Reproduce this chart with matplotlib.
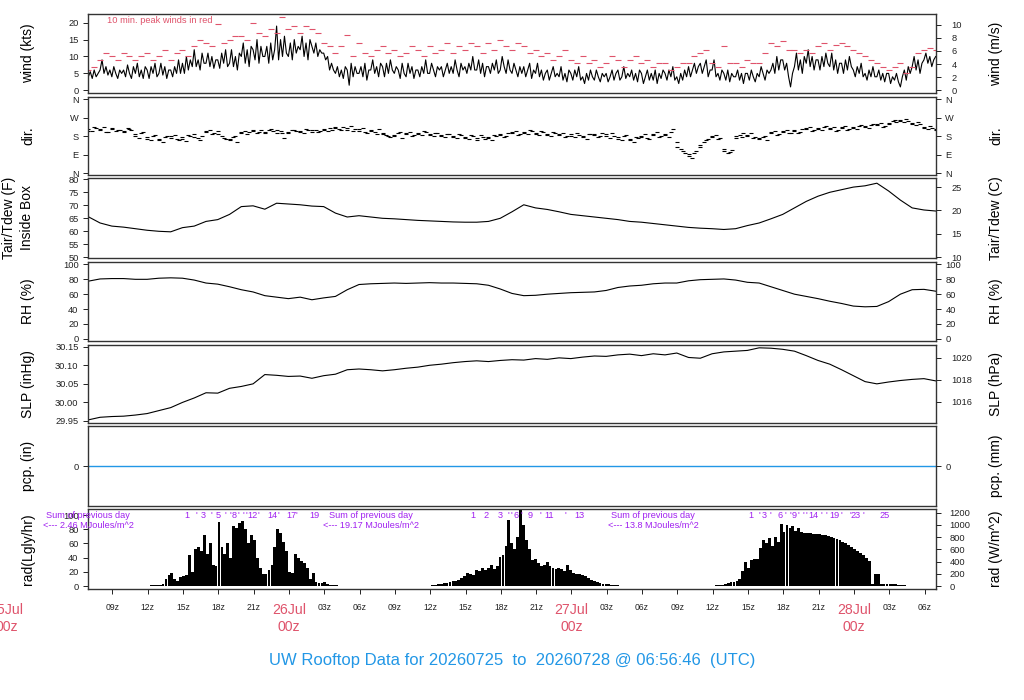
import numpy as np
import matplotlib
matplotlib.use("Agg")
import matplotlib.pyplot as plt
from matplotlib.transforms import blended_transform_factory

plt.rcParams['font.family'] = ['Liberation Sans', 'DejaVu Sans']

# ---------------- data (hours since 2026-07-25 00z) ----------------
T0 = 6 + 56 / 60 + 46 / 3600
T1 = T0 + 72

# mean wind (kts), 10-minute samples
wind_kts = [4, 5.5, 3.5, 6, 4, 5, 6, 9, 5, 7, 4.5, 6, 4, 7, 5, 3.5, 6, 5,
            6, 4, 7.5, 5, 3.5, 7, 5, 8, 4, 6, 3.5, 7, 6, 3.5, 7, 5, 8, 4,
            5, 8, 4.5, 7, 3.5, 6, 6, 4, 7, 5, 9, 5, 8, 5, 10, 6, 9, 7,
            12, 7, 9, 6, 11, 8, 8, 11, 7, 10, 6.5, 9, 9, 6.5, 11, 8, 12, 7,
            8, 12, 7, 10, 6, 11, 10, 14, 8, 12, 7, 13, 12, 9, 15, 8, 13, 10,
            10, 13, 8, 14, 9, 12, 19, 9, 15, 10, 16, 11, 10, 14, 9, 15, 11, 13,
            12, 16, 10, 14, 9, 15, 13, 11, 14, 10, 12, 11, 11, 9, 10, 6, 8, 6,
            5, 7, 4, 6, 3.5, 7, 6, 1.5, 8, 4, 7, 5, 5, 7, 4, 8, 3, 6,
            6, 9, 5, 7, 4, 8, 7, 4, 8, 5, 9, 6, 5, 7, 6, 3.5, 8, 5,
            4, 8, 5, 7, 3.5, 6, 6, 4, 7, 5, 9, 5, 5, 8, 6, 4, 7, 6,
            7, 4, 6, 8, 5, 7, 5, 9, 6, 4, 8, 6, 7, 5, 8, 6, 10, 6,
            6, 9, 5, 8, 4, 7, 7, 5, 8, 6, 9, 5, 6, 10, 7, 5, 9, 6,
            5, 8, 6, 4, 7, 5, 7, 4, 6, 8, 3.5, 6, 5, 8, 4, 6, 3, 5,
            6, 3, 5, 7, 4, 5, 4, 7, 3, 5, 2.5, 6, 5, 3, 6, 4, 7, 3,
            4, 2, 5, 3, 6, 4, 3, 6, 4, 2.5, 5, 4, 5, 2.5, 4, 6, 3, 5,
            6, 3, 4, 7, 3.5, 5, 4, 6, 3, 5, 2.5, 6, 5, 2, 4, 6, 3, 5,
            3, 6, 2, 5, 3.5, 6, 5, 3, 6, 4, 7, 3, 4, 2, 5, 3, 6, 4,
            7, 4, 6, 8, 5, 7, 8, 5, 7, 9, 4, 6, 6, 9, 4, 5, 3, 6,
            5, 3, 6, 2.5, 5, 4, 4, 6, 3, 5, 2, 5, 5, 3, 6, 4, 2.5, 5,
            4, 7, 5, 3, 6, 5, 6, 8, 5, 10, 6, 9, 9, 6, 8, 4, 1, 5,
            7, 11, 6, 9, 5, 10, 8, 12, 7, 10, 6, 9, 9, 6, 10, 7, 11, 8,
            7, 11, 6, 9, 5, 8, 8, 5, 9, 6, 10, 7, 6, 4, 7, 5, 8, 4,
            5, 3, 6, 4, 7, 4, 4, 6, 3, 5, 2.5, 5, 5, 2, 4, 3, 5, 2.5,
            1, 4, 6, 3, 7, 5, 7, 10, 6, 9, 5, 8, 9, 11, 8, 10, 7, 9,
            10]

# 10-minute peak winds (kts), 30-minute samples
peak_kts = [6, 7, 9, 11, 10, 9, 11, 10, 9, 10, 11, 9, 10, 12, 9, 11, 12, 10, 13, 15,
            14, 13, 19.5, 14, 15, 16, 16, 15, 20, 17, 16, 18, 17, 21.7, 18, 19, 17, 19, 18, 17,
            14, 13, 11, 13, 16.5, 10, 14, 11, 10, 12, 13, 11, 12, 10, 11, 13, 12, 10, 13, 11,
            12, 14, 11, 13, 12, 14, 13, 11, 14, 12, 15, 13, 12, 14, 13, 11, 12, 10, 11, 9,
            10, 12, 9, 8, 10, 8, 9, 7, 8, 10, 9, 7, 9, 10, 8, 9, 7, 8, 8, 6,
            7, 8, 8, 10, 11, 12, 8, 7, 13, 8, 8, 7, 9, 8, 8, 11, 14, 13, 14.5, 12,
            12, 11, 12, 11, 13, 14, 12, 13.5, 14, 13, 12, 11, 10, 9, 8, 7, 6, 7, 8, 5,
            7, 11, 12, 12.5, 12]

# wind direction (deg), two interleaved sample sets
dir_deg = [215, 205, 220, 210, 225, 200, 215, 205, 212, 200, 218, 210,
           190, 170, 200, 175, 160, 185, 165, 150, 180, 170, 185, 160, 175, 155, 180,
           190, 170, 180, 200, 210, 195, 205, 180, 165, 160, 175, 150, 195, 205, 200,
           205, 195, 210, 200, 210, 205, 195, 205, 170, 200, 210, 205, 205, 195, 210,
           200, 210, 205, 215, 205, 210, 220, 215, 225, 210, 230, 215, 205, 220, 195,
           210, 200, 215, 195, 185, 175, 180, 195, 170, 190, 200, 185, 195, 185, 200,
           190, 180, 195, 185, 175, 190, 180, 170, 185, 175, 165, 180, 170, 185, 165,
           175, 160, 180, 185, 175, 195, 195, 205, 190, 200, 190, 205, 195, 185, 200,
           190, 180, 195, 185, 195, 180, 190, 175, 185, 180, 165, 190, 185, 175, 195,
           190, 170, 180, 175, 160, 185, 165, 150, 170, 175, 190, 165, 185, 200, 180,
           190, 175, 215, 150, 120, 100, 95, 75, 110, 130, 150, 165, 175, 185, 170,
           120, 100, 115, 170, 185, 195, 180, 195, 175, 165, 175, 160, 195, 205, 190,
           200, 210, 195, 205, 195, 215, 215, 225, 210, 220, 210, 230, 215, 225, 210,
           220, 230, 215, 225, 215, 235, 230, 220, 240, 235, 245, 230, 240, 255, 250,
           260, 250, 255, 245, 235, 240, 225, 215, 220, 210]
dir_deg_b = [205, 225, 215, 200, 220, 210, 205, 215, 180, 195, 165, 180, 160, 175,
             180, 165, 165, 185, 175, 160, 205, 190, 190, 170, 165, 180, 200, 190,
             210, 200, 195, 215, 210, 195, 195, 210, 200, 215, 210, 200, 210, 220,
             225, 210, 220, 205, 215, 200, 205, 190, 190, 180, 185, 200, 195, 180,
             190, 205, 185, 195, 180, 190, 175, 190, 170, 185, 160, 175, 170, 185,
             190, 180, 200, 185, 195, 210, 190, 205, 185, 200, 190, 175, 180, 195,
             175, 190, 190, 180, 180, 195, 165, 180, 160, 175, 180, 170, 190, 175,
             185, 200, 130, 110, 85, 100, 140, 160, 180, 165, 110, 105, 180, 175,
             185, 170, 170, 180, 200, 185, 205, 195, 210, 200, 220, 205, 215, 225,
             220, 205, 225, 210, 220, 230, 225, 235, 240, 225, 245, 260, 255, 265,
             240, 250, 220, 230, 215]

temp_f = [65.6, 63.2, 62.0, 61.6, 61.0, 60.4, 60.0, 59.8, 61.4, 62.0, 63.8, 64.5, 66.5,
          69.5, 69.8, 68.5, 70.8, 70.5, 70.2, 69.7, 69.5, 67.0, 65.5, 66.0, 65.5, 65.0,
          64.8, 64.5, 64.2, 64.0, 63.8, 63.6, 63.5, 63.5, 63.8, 65.0, 67.5, 70.2, 69.0,
          68.4, 67.5, 66.5, 66.0, 65.5, 65.0, 64.5, 63.8, 63.5, 63.0, 62.5, 62.0, 61.5,
          61.2, 61.0, 60.7, 61.0, 62.2, 63.2, 64.8, 66.5, 69.0, 71.5, 73.5, 75.0, 76.0,
          77.0, 77.5, 78.5, 75.5, 72.0, 69.0, 68.2, 67.8]

rh_pct = [77.5, 80.5, 81, 81, 80, 80, 81.5, 82, 81.5, 79, 75, 73.5, 70, 66, 63, 58, 56,
          54, 56, 52.5, 55, 57, 66, 73, 74, 74.5, 75, 74.5, 75, 75.5, 75, 75, 74.5, 74,
          72, 67, 61, 58, 58.5, 60, 61, 62, 62.5, 63, 65, 69, 71, 72, 74, 75, 75, 78,
          79.5, 80, 80.5, 79, 76, 75, 70, 65, 60, 57, 54, 50.5, 47.5, 44, 43, 43.5, 50,
          60, 66, 66.5, 64]

slp_inhg = [29.953, 29.960, 29.962, 29.963, 29.966, 29.970, 29.978, 29.986, 30.000,
            30.012, 30.026, 30.025, 30.038, 30.043, 30.050, 30.075, 30.073, 30.070,
            30.071, 30.065, 30.072, 30.076, 30.088, 30.090, 30.088, 30.085, 30.088,
            30.092, 30.095, 30.100, 30.103, 30.107, 30.110, 30.112, 30.110, 30.113,
            30.115, 30.114, 30.118, 30.116, 30.120, 30.118, 30.122, 30.125, 30.124,
            30.128, 30.130, 30.126, 30.131, 30.128, 30.133, 30.121, 30.119, 30.131,
            30.136, 30.138, 30.140, 30.147, 30.146, 30.143, 30.138, 30.126, 30.113,
            30.103, 30.088, 30.072, 30.056, 30.050, 30.055, 30.059, 30.062, 30.064, 30.058]

pcp_in = [0.0, 0.0]

# solar radiation (W/m^2), 15-minute samples per day, with day start hours
rad_day_start = [12.05, 36.18, 60.31]
rad_day1 = [6, 12, 12, 17, 23, 35, 115, 185, 220, 115, 80, 140, 165, 185, 510, 230, 605,
            640, 580, 835, 525, 700, 350, 325, 1045, 640, 525, 700, 465, 990, 955, 1025,
            1070, 930, 700, 835, 755, 465, 290, 200, 200, 255, 350, 640, 930, 870, 720,
            580, 230, 210, 525, 465, 405, 385, 290, 115, 210, 60, 45, 45, 70, 35, 23, 17,
            12, 6]
rad_day2 = [15, 20, 30, 35, 45, 55, 60, 75, 80, 100, 130, 160, 220, 200, 180, 270, 250,
            290, 260, 300, 350, 280, 320, 470, 500, 650, 1080, 700, 600, 800, 1240, 1000,
            750, 600, 420, 450, 380, 320, 350, 400, 330, 300, 280, 300, 280, 250, 350, 270,
            220, 200, 200, 180, 170, 130, 100, 80, 60, 50, 40, 30, 25, 20, 15, 10, 5]
rad_day3 = [10, 15, 20, 40, 55, 60, 70, 80, 120, 250, 400, 300, 420, 440, 450, 620, 750,
            700, 780, 650, 800, 720, 1020, 880, 1000, 950, 980, 900, 950, 880, 870, 860,
            860, 850, 850, 845, 840, 830, 820, 805, 790, 770, 750, 725, 700, 670, 640, 610,
            575, 540, 500, 460, 410, 30, 200, 190, 40, 35, 35, 30, 30, 25, 20, 15, 10]
rad_days = [rad_day1, rad_day2, rad_day3]

# cumulative MJ/m^2 marks drawn along the top of the radiation panel
cum_times = [
    [15.31, 16.16, 16.72, 17.37, 17.99, 18.56, 18.99, 19.35, 19.69, 20.12, 20.41, 20.88,
     21.39, 22.62, 23.09, 24.17, 24.66, 26.12],
    [39.66, 40.74, 41.93, 42.63, 42.92, 43.29, 43.71, 44.48, 45.33, 46.12, 47.45, 48.64],
    [63.25, 63.96, 64.36, 64.87, 65.72, 66.14, 66.57, 66.91, 67.27, 67.70, 67.99, 68.55,
     69.26, 69.69, 70.33, 70.96, 71.67, 72.15, 72.80, 74.64]]
cum_labels = [
    ["1", "'", "3", "'", "5", "'", "'", "8", "'", "'", "'", "12", "'", "14", "'", "17", "'", "19"],
    ["1", "2", "3", "'", "'", "6", "'", "9", "'", "11", "'", "13"],
    ["1", "'", "3", "'", "6", "'", "'", "9", "'", "'", "'", "14", "'", "'", "19", "'", "'",
     "23", "'", "25"]]
day_sums = ["2.46", "19.17", "13.8"]

date_labels = ["25Jul", "26Jul", "27Jul", "28Jul"]
date_hours = [0, 24, 48, 72]
hour_ticks = list(range(9, 79, 3))

title = "UW Rooftop Data for 20260725  to  20260728 @ 06:56:46  (UTC)"

# ---------------- styling ----------------
RED = '#DF536B'
BLUE = '#2297E6'
PURPLE = '#A020F0'
W, H = 1024, 700
fig = plt.figure(figsize=(W / 100, H / 100), dpi=100)

def panel(top, bottom):
    ax = fig.add_axes([88.3 / W, 1 - bottom / H, 847.4 / W, (bottom - top) / H])
    ax.set_xlim(T0, T1)
    for s in ax.spines.values():
        s.set_color('#333333')
        s.set_linewidth(1.0)
    return ax

def yaxes(ax, ylim, lt, ll, rt, rl, rpad=3.6):
    ax.set_ylim(*ylim)
    ax.set_yticks(lt)
    ax.set_yticklabels(ll)
    ax.tick_params(axis='y', direction='out', length=3.6, width=0.7, labelsize=6.7,
                   pad=3.4, colors='#222222')
    ax.set_xticks([])
    ax2 = ax.twinx()
    ax2.set_ylim(*ylim)
    ax2.set_yticks(rt)
    ax2.set_yticklabels(rl)
    ax2.tick_params(axis='y', direction='out', length=3.6, width=0.7, labelsize=6.7,
                    pad=rpad, colors='#222222')
    for s in ax2.spines.values():
        s.set_visible(False)
    return ax2

def ylab(top, bottom, left_text, right_text, lx=28):
    yc = 1 - (top + bottom) / 2 / H
    fig.text(lx / W, yc, left_text, rotation=90, ha='center', va='center', fontsize=10)
    fig.text(996 / W, yc, right_text, rotation=90, ha='center', va='center', fontsize=10)

KT2MS = 0.514444

# wind
ax = panel(14, 93)
tw = np.linspace(T0, T1, len(wind_kts))
ax.plot(tw, wind_kts, color='black', lw=0.8)
tp = np.linspace(T0, T1, len(peak_kts))
ax.plot(tp, peak_kts, ls='none', marker='_', ms=4, mew=0.8, color=RED)
ms_ticks = [0, 2, 4, 6, 8, 10]
yaxes(ax, (-0.8, 22.57), [0, 5, 10, 15, 20], ['0', '5', '10', '15', '20'],
      [v / KT2MS for v in ms_ticks], [str(v) for v in ms_ticks], rpad=7.9)
ax.text(0.0224, 0.924, "10 min. peak winds in red", transform=ax.transAxes, color=RED,
        fontsize=6.7, ha='left', va='center')
ylab(14, 93, "wind (kts)", "wind (m/s)")

# direction
ax = panel(97, 175)
td = np.linspace(T0, T1, len(dir_deg))
ax.plot(td, dir_deg, ls='none', marker='_', ms=3.5, mew=0.8, color='black')
td2 = np.linspace(T0, T1, len(dir_deg_b))
ax.plot(td2, dir_deg_b, ls='none', marker='_', ms=3.5, mew=0.8, color='black')
dt = [0, 90, 180, 270, 360]
dl = ['N', 'E', 'S', 'W', 'N']
yaxes(ax, (-8.3, 371), dt, dl, dt, dl, rpad=3.4)
ylab(97, 175, "dir.", "dir.")

# temperature
ax = panel(178, 258)
tt = np.linspace(T0, T1, len(temp_f))
ax.plot(tt, temp_f, color='black', lw=0.8)
ct = [10, 15, 20, 25]
yaxes(ax, (49.73, 80.5), [50, 55, 60, 65, 70, 75, 80],
      ['50', '55', '60', '65', '70', '75', '80'],
      [c * 9 / 5 + 32 for c in ct], [str(c) for c in ct], rpad=7.9)
yc = 1 - 218 / H
fig.text(9.5 / W, yc, "Tair/Tdew (F)", rotation=90, ha='center', va='center', fontsize=10)
fig.text(27 / W, yc, "Inside Box", rotation=90, ha='center', va='center', fontsize=10)
fig.text(996 / W, yc, "Tair/Tdew (C)", rotation=90, ha='center', va='center', fontsize=10)

# RH
ax = panel(262, 341)
tr = np.linspace(T0, T1, len(rh_pct))
ax.plot(tr, rh_pct, color='black', lw=0.8)
rt = [0, 20, 40, 60, 80, 100]
yaxes(ax, (-3.0, 103.3), rt, [str(v) for v in rt], rt, [str(v) for v in rt], rpad=3.4)
ylab(262, 341, "RH (%)", "RH (%)")

# SLP
ax = panel(345, 423)
ts = np.linspace(T0, T1, len(slp_inhg))
ax.plot(ts, slp_inhg, color='black', lw=0.8)
hp = [1016, 1018, 1020]
yaxes(ax, (29.9446, 30.1546), [29.95, 30.00, 30.05, 30.10, 30.15],
      ['29.95', '30.00', '30.05', '30.10', '30.15'],
      [h / 33.8639 for h in hp], [str(h) for h in hp], rpad=7.9)
ylab(345, 423, "SLP (inHg)", "SLP (hPa)")

# precipitation
ax = panel(426, 506)
tpc = np.linspace(T0, T1, len(pcp_in))
ax.plot(tpc, pcp_in, color=BLUE, lw=1.0)
yaxes(ax, (-1, 1), [0], ['0'], [0], ['0'], rpad=3.4)
ylab(426, 506, "pcp. (in)", "pcp. (mm)")

# radiation
LY = 11.622
ax = panel(509, 589)
for start, vals in zip(rad_day_start, rad_days):
    tt_r = start + 0.25 * np.arange(len(vals))
    ax.bar(tt_r, vals, width=0.24, color='black', linewidth=0, align='center')
wt = [0, 200, 400, 600, 800, 1000, 1200]
lt = [0, 20, 40, 60, 80, 100]
yaxes(ax, (-4.2 * LY, 108.5 * LY), [v * LY for v in lt], [str(v) for v in lt],
      wt, [str(v) for v in wt], rpad=6.5)
ax.set_xticks(hour_ticks)
ax.set_xticklabels(['' if h % 24 == 0 else '%02dz' % (h % 24) for h in hour_ticks])
ax.tick_params(axis='x', direction='out', length=3.6, width=0.7, labelsize=6.2, pad=6.5,
               colors='#222222')
tr_ = blended_transform_factory(ax.transData, ax.transAxes)
for times, labs in zip(cum_times, cum_labels):
    for t, s in zip(times, labs):
        ax.text(t, 0.925, s, transform=tr_, color=PURPLE, fontsize=6.6,
                ha='center', va='center')
for k, s in enumerate(day_sums):
    ax.text(T0 + 24 * k, 0.925, "Sum of previous day", transform=tr_, color=PURPLE,
            fontsize=6.6, ha='center', va='center', clip_on=False)
    ax.text(T0 + 24 * k, 0.794, "<--- %s MJoules/m^2" % s, transform=tr_, color=PURPLE,
            fontsize=6.6, ha='center', va='center', clip_on=False)
ylab(509, 589, "rad(Lgly/hr)", "rad (W/m^2)")

btr = blended_transform_factory(ax.transData, fig.transFigure)
for h, d in zip(date_hours, date_labels):
    ax.text(h, 1 - 610 / H, d, transform=btr, color=RED, fontsize=10.2, ha='center',
            va='center', clip_on=False)
    ax.text(h, 1 - 627 / H, "00z", transform=btr, color=RED, fontsize=10.2, ha='center',
            va='center', clip_on=False)

fig.text(512 / W, 1 - 660 / H, title, color=BLUE, fontsize=12, ha='center', va='center')

fig.savefig("out.png", dpi=100)
